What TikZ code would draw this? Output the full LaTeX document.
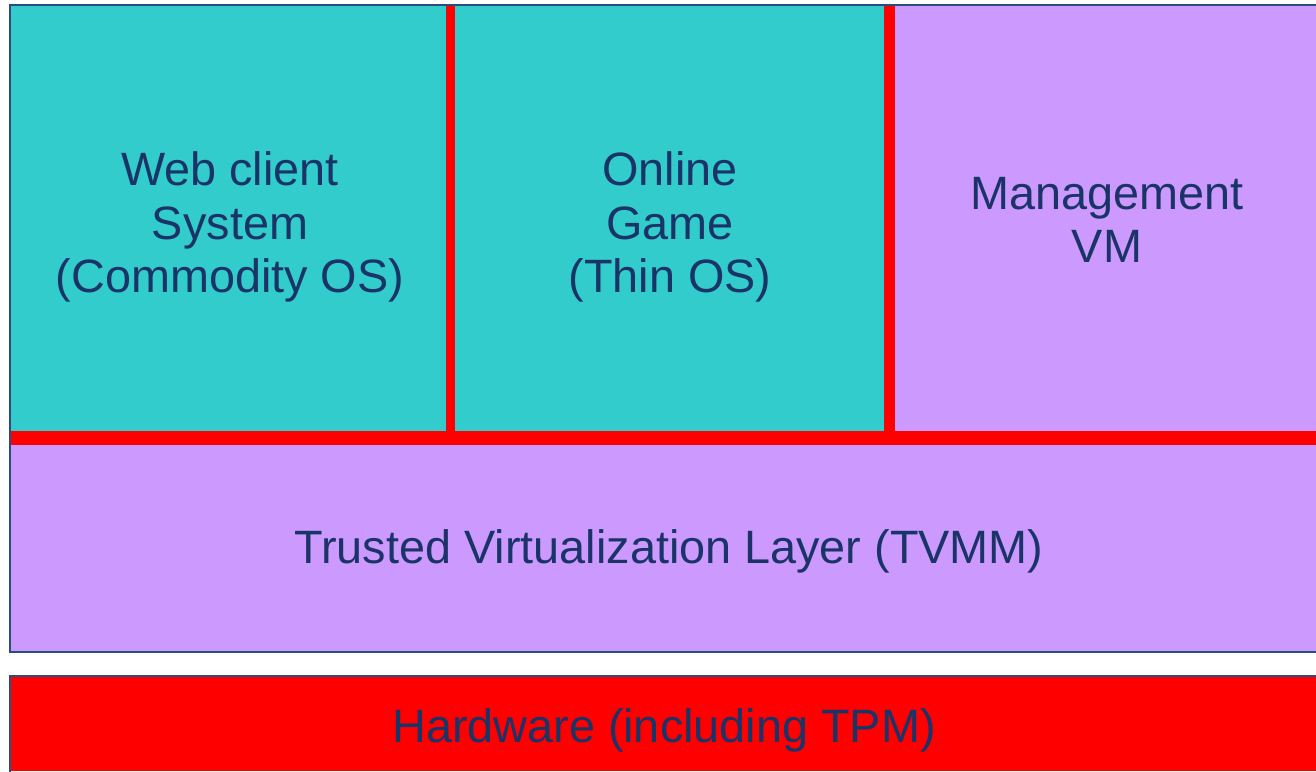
\documentclass[tikz,border=0pt]{standalone}
\usepackage{fontspec}
\setmainfont{Liberation Sans}
\definecolor{vmcyan}{HTML}{33CCCC}
\definecolor{vmpurple}{HTML}{CC99FF}
\definecolor{hwred}{HTML}{FF0000}
\definecolor{edgeblue}{HTML}{2B4C7E}
\definecolor{txtnavy}{HTML}{1A3468}
\tikzset{
  lbl/.style={text=txtnavy, align=center, inner sep=0pt,
    font=\fontsize{23.4pt}{26.75pt}\selectfont},
  bar/.style={fill=hwred},
  frame/.style={draw=edgeblue, line width=1.1pt}
}
\begin{document}
\begin{tikzpicture}[x=0.5pt,y=-0.5pt]
\useasboundingbox (0,0) rectangle (1316,771);
\fill[white] (0,0) rectangle (1316,771);
% top boxes
\fill[vmcyan] (10,5) rectangle (446,431);
\fill[vmcyan] (455,5) rectangle (884,431);
\fill[vmpurple] (895,5) rectangle (1316,431);
% TVMM
\fill[vmpurple] (10,445) rectangle (1316,652);
% red separators
\fill[bar] (446,5) rectangle (455,445);
\fill[bar] (884,5) rectangle (895,445);
\fill[bar] (10,431) rectangle (1316,445);
% hardware
\fill[hwred] (10,676) rectangle (1316,771);
% outlines
\draw[frame] (1317,5) -- (10,5) -- (10,652) -- (1317,652);
\draw[frame] (1317,676) -- (10,676) -- (10,772);
% labels
\node[lbl] (web) at (230,227) {Web client\\System\\(Commodity OS)};
\node[lbl] (game) at (670,227) {Online\\Game\\(Thin OS)};
\node[lbl] (mgmt) at (1107,220) {Management\\VM};
\node[lbl] (tvmm) at (669,551) {Trusted Virtualization Layer (TVMM)};
\node[lbl] (hw) at (664,730) {Hardware (including TPM)};
\end{tikzpicture}
\end{document}
